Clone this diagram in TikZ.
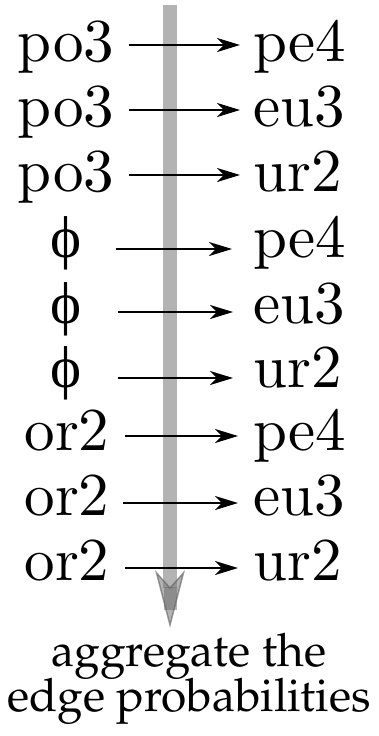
\documentclass[tikz,border=0pt]{standalone}
\usepackage[T1,TU]{fontenc}
\usepackage{fontspec}
\newfontfamily\lmten{lmroman10-regular}[Extension=.otf]
\newfontfamily\grk{Liberation Serif}
\usetikzlibrary{arrows.meta}
\begin{document}
\begin{tikzpicture}[x=1pt,y=-1pt,
  lab/.style={inner sep=0pt, font=\lmten\fontsize{61}{66}\selectfont},
  philab/.style={inner sep=0pt, font=\grk\fontsize{59}{63}\selectfont},
  caption/.style={inner sep=0pt, anchor=base, font=\fontencoding{T1}\fontfamily{ppl}\fontsize{46}{50}\selectfont},
  hedge/.style={line width=2.7pt, -{Stealth[length=23pt,width=14pt,inset=7pt]}},
  flow/.style={line width=14pt, draw=gray, opacity=0.6, -{Stealth[length=58pt,width=30pt,inset=17pt,line width=1.5pt,color=gray!75!black,fill=gray]}},
  overlap/.style={line width=13pt, draw=gray!80!black, opacity=0.5}]
\useasboundingbox (0,0) rectangle (378,736);
\coordinate (top) at (170,5);
\coordinate (tip) at (170,628);
\coordinate (notch) at (170,587);
\coordinate (inner) at (170,610);
\draw[flow] (top) -- (tip);
\draw[overlap] (notch) -- (inner);
% rows
\node[lab,anchor=base] (l1) at (66,61) {po3};
\node[lab,anchor=base west] (r1) at (253,61) {pe4};
\node[lab,anchor=base] (l2) at (66,126) {po3};
\node[lab,anchor=base west] (r2) at (253,126) {eu3};
\node[lab,anchor=base] (l3) at (66,191) {po3};
\node[lab,anchor=base west] (r3) at (253,191) {ur2};
\node[philab,anchor=base] (l4) at (66,257) {ϕ};
\node[lab,anchor=base west] (r4) at (253,257) {pe4};
\node[philab,anchor=base] (l5) at (66,323) {ϕ};
\node[lab,anchor=base west] (r5) at (253,323) {eu3};
\node[philab,anchor=base] (l6) at (66,387) {ϕ};
\node[lab,anchor=base west] (r6) at (253,387) {ur2};
\node[lab,anchor=base] (l7) at (67,450) {or2};
\node[lab,anchor=base west] (r7) at (253,450) {pe4};
\node[lab,anchor=base] (l8) at (67,515) {or2};
\node[lab,anchor=base west] (r8) at (253,515) {eu3};
\node[lab,anchor=base] (l9) at (67,580) {or2};
\node[lab,anchor=base west] (r9) at (253,580) {ur2};
\draw[hedge] ([xshift=14.5pt,yshift=16pt]l1.base east) -- ([xshift=-13pt,yshift=16pt]r1.base west);
\draw[hedge] ([xshift=14.5pt,yshift=16pt]l2.base east) -- ([xshift=-13pt,yshift=16pt]r2.base west);
\draw[hedge] ([xshift=14.5pt,yshift=16pt]l3.base east) -- ([xshift=-13pt,yshift=16pt]r3.base west);
\draw[hedge] ([xshift=34pt,yshift=8pt]l4.base east) -- ([xshift=-21pt,yshift=8pt]r4.base west);
\draw[hedge] ([xshift=36pt,yshift=11pt]l5.base east) -- ([xshift=-20pt,yshift=11pt]r5.base west);
\draw[hedge] ([xshift=36pt,yshift=9pt]l6.base east) -- ([xshift=-20pt,yshift=9pt]r6.base west);
\draw[hedge] ([xshift=15.5pt,yshift=14pt]l7.base east) -- ([xshift=-15pt,yshift=14pt]r7.base west);
\draw[hedge] ([xshift=13.5pt,yshift=12pt]l8.base east) -- ([xshift=-15pt,yshift=12pt]r8.base west);
\draw[hedge] ([xshift=15.5pt,yshift=12pt]l9.base east) -- ([xshift=-15pt,yshift=12pt]r9.base west);
% caption
\node[caption] (b1) at (189,666) {aggregate the};
\node[caption] (b2) at (189,711) {edge probabilities};
\end{tikzpicture}
\end{document}
